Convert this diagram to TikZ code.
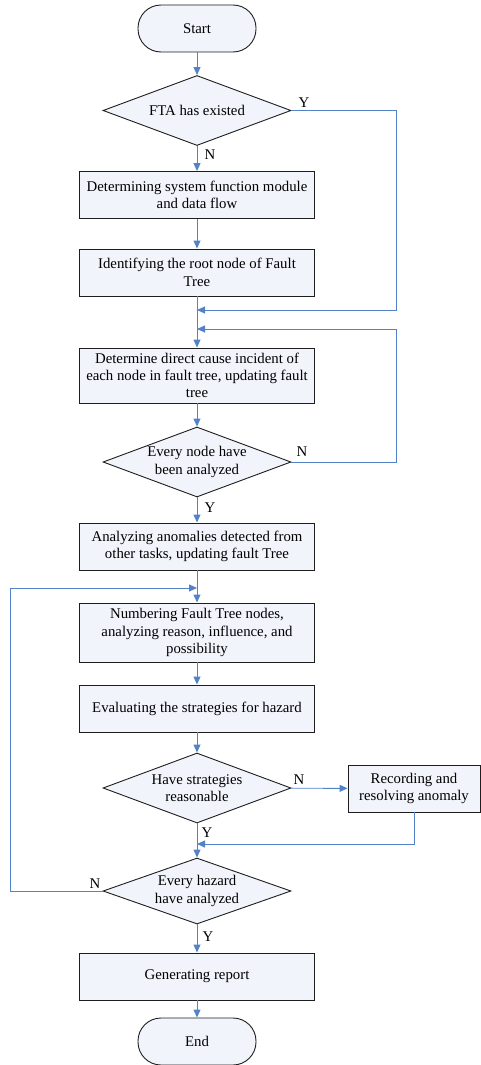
\documentclass[tikz,border=0pt]{standalone}
\usepackage{fontspec}
\setmainfont{Liberation Serif}
\usetikzlibrary{shapes.geometric,arrows.meta}
\definecolor{boxfill}{HTML}{F1F4FB}
\definecolor{flowblue}{HTML}{5283C8}
\definecolor{boxline}{HTML}{1E1E1E}
\begin{document}
\begin{tikzpicture}[x=1pt,y=-1pt,
    font=\fontsize{14.8}{17.3}\selectfont,
    process/.style={rectangle,draw=boxline,fill=boxfill,line width=0.9pt,
        minimum width=235pt,minimum height=47pt,inner sep=1pt,align=center},
    decision/.style={diamond,draw=boxline,fill=boxfill,line width=0.9pt,
        minimum width=188pt,minimum height=70pt,inner sep=0pt,aspect=2.7,align=center},
    terminal/.style={rectangle,rounded corners=23pt,draw=boxline,fill=boxfill,
        line width=0.9pt,minimum width=118pt,minimum height=47pt},
    flow/.style={draw=flowblue,line width=0.9pt,-{Triangle[length=8pt,width=7pt]}},
    yn/.style={inner sep=0pt}]
    \useasboundingbox (0,0) rectangle (481,1065);
    % main column
    \node (start) [terminal] at (197,28.5) {Start};
    \node (exist) [decision] at (197,110.5) {FTA has existed};
    \node (module) [process] at (197,195) {Determining system function module\\and data flow};
    \node (root) [process] at (197,272.5) {Identifying the root node of Fault\\Tree};
    \node (cause) [process,minimum height=55pt] at (197,375.5) {Determine direct cause incident of\\each node in fault tree, updating fault\\tree};
    \node (every) [decision] at (197,462) {Every node have\\been analyzed};
    \node (anomaly) [process] at (197,546.5) {Analyzing anomalies detected from\\other tasks, updating fault Tree};
    \node (number) [process,minimum height=59pt] at (197,632.5) {Numbering Fault Tree nodes,\\analyzing reason, influence, and\\possibility};
    \node (evaluate) [process] at (197,708.5) {Evaluating the strategies for hazard};
    \node (reason) [decision] at (197,788) {Have strategies\\reasonable};
    \node (record) [process,minimum width=132pt] at (414,788.5) {Recording and\\resolving anomaly};
    \node (hazard) [decision,minimum height=66pt] at (197,891) {Every hazard\\have analyzed};
    \node (report) [process] at (197,976.5) {Generating report};
    \node (end) [terminal] at (197,1041.5) {End};
    % merge points
    \coordinate (m1) at (197,310);
    \coordinate (m2) at (197,329);
    \coordinate (m3) at (197,588);
    \coordinate (m4) at (197,844);
    % labels
    \node (y1) [yn] at (304,103) {Y};
    \node (n1) [yn] at (210,155) {N};
    \node (n2) [yn] at (302,452) {N};
    \node (y2) [yn] at (210,508) {Y};
    \node (n3) [yn] at (299,780) {N};
    \node (y3) [yn] at (207,833) {Y};
    \node (n4) [yn] at (95,884) {N};
    \node (y4) [yn] at (208,937) {Y};
    \begin{scope}[every edge/.style={flow}]
        \path
            (start) edge (exist)
            (exist) edge (module)
            (module) edge (root)
            (root) edge (cause)
            (cause) edge (every)
            (every) edge (anomaly)
            (anomaly) edge (number)
            (number) edge (evaluate)
            (evaluate) edge (reason)
            (reason) edge (hazard)
            (reason) edge (record)
            (hazard) edge (report)
            (report) edge (end);
    \end{scope}
    \draw[flow] (exist.east) -- ++(105,0) |- (m1);
    \draw[flow] (every.east) -- ++(105,0) |- (m2);
    \draw[flow] (hazard.west) -- (10,891) |- (m3);
    \draw[flow] (record.south) |- (m4);
\end{tikzpicture}
\end{document}
